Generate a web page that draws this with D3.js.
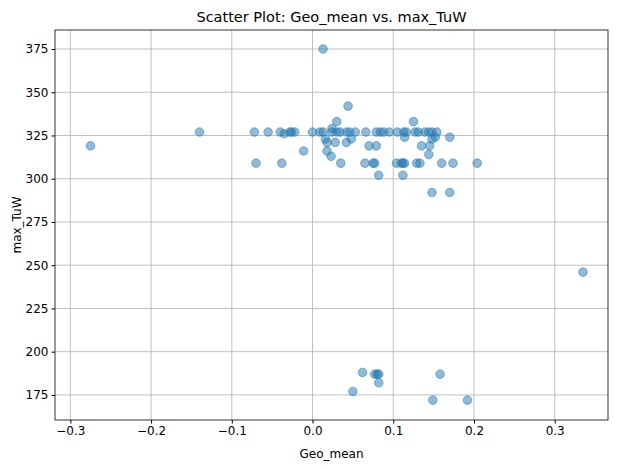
<!DOCTYPE html>
<html lang="en">
<head>
<meta charset="UTF-8">
<title>Scatter Plot</title>
<script src="https://cdnjs.cloudflare.com/ajax/libs/d3/7.8.5/d3.min.js"></script>
<style>
    body { margin: 0; background: #fff; }
    svg { font-family: "DejaVu Sans", sans-serif; }
</style>
</head>
<body>
<svg id="chart" width="618" height="470"></svg>
<script>
    // Geo_mean values
    var geoMean = [
        -0.275, -0.14, -0.072, -0.070, -0.055, -0.040, -0.038, -0.035, -0.028, -0.026, -0.022,
        -0.011, 0.000, 0.009, 0.013, 0.013, 0.016, 0.018, 0.018, 0.023, 0.024, 0.024, 0.028, 0.030, 0.030,
        0.034, 0.035, 0.042, 0.042, 0.044, 0.046, 0.048, 0.053, 0.065, 0.066, 0.070, 0.075, 0.077, 0.079,
        0.079, 0.082, 0.084, 0.088, 0.095, 0.104, 0.105, 0.110, 0.112, 0.112, 0.113, 0.114, 0.114, 0.116,
        0.125, 0.127, 0.129, 0.131, 0.133, 0.135, 0.139, 0.144, 0.144, 0.145, 0.148, 0.148, 0.148, 0.152,
        0.154, 0.160, 0.170, 0.170, 0.174, 0.204, 0.335,
        0.050, 0.062, 0.077, 0.080, 0.082, 0.082, 0.149, 0.158, 0.192
    ];
    // max_TuW values
    var maxTuW = [
        319, 327, 327, 309, 327, 327, 309, 326, 327, 327, 327,
        316, 327, 327, 327, 375, 323, 321, 316, 313, 327, 329, 321, 327, 333,
        327, 309, 327, 321, 342, 327, 323, 327, 309, 327, 319, 309, 309, 319,
        327, 302, 327, 327, 327, 309, 327, 309, 309, 302, 327, 309, 324, 327,
        333, 327, 309, 327, 309, 319, 327, 327, 314, 319, 327, 323, 292, 324,
        327, 309, 324, 292, 309, 309, 246,
        177, 188, 187, 187, 187, 182, 172, 187, 172
    ];
    var xTicks = [-0.3, -0.2, -0.1, 0.0, 0.1, 0.2, 0.3];
    var yTicks = [175, 200, 225, 250, 275, 300, 325, 350, 375];

    var svg = d3.select('#chart');
    var mLeft = 55, mRight = 608, mTop = 30, mBottom = 420;

    var x = d3.scaleLinear().domain([-0.319, 0.366]).range([mLeft, mRight]);
    var y = d3.scaleLinear().domain([160.5, 386]).range([mBottom, mTop]);

    // grid
    svg.append('g').selectAll('line').data(xTicks).join('line')
        .attr('x1', d => x(d)).attr('x2', d => x(d)).attr('y1', mTop).attr('y2', mBottom)
        .attr('stroke', '#b0b0b0').attr('stroke-width', 0.8);
    svg.append('g').selectAll('line').data(yTicks).join('line')
        .attr('y1', d => y(d)).attr('y2', d => y(d)).attr('x1', mLeft).attr('x2', mRight)
        .attr('stroke', '#b0b0b0').attr('stroke-width', 0.8);

    // points
    svg.append('g').selectAll('circle').data(geoMean).join('circle')
        .attr('cx', d => x(d))
        .attr('cy', (d, i) => y(maxTuW[i]))
        .attr('r', 4.3)
        .attr('fill', '#1f77b4').attr('fill-opacity', 0.5)
        .attr('stroke', '#1f77b4').attr('stroke-opacity', 0.5).attr('stroke-width', 1);

    // axes
    var xAxis = svg.append('g').attr('transform', `translate(0,${mBottom})`)
        .call(d3.axisBottom(x).tickValues(xTicks).tickFormat(d3.format('.1f')).tickSize(3.5).tickPadding(3));
    var yAxis = svg.append('g').attr('transform', `translate(${mLeft},0)`)
        .call(d3.axisLeft(y).tickValues(yTicks).tickSize(3.5).tickPadding(3));
    [xAxis, yAxis].forEach(function(a) {
        a.select('.domain').remove();
        a.selectAll('text').attr('font-size', 12).attr('fill', '#000').attr('font-family', 'DejaVu Sans');
        a.selectAll('line').attr('stroke', '#000');
    });

    svg.append('rect').attr('x', mLeft).attr('y', mTop)
        .attr('width', mRight - mLeft).attr('height', mBottom - mTop)
        .attr('fill', 'none').attr('stroke', '#000').attr('stroke-width', 0.8);

    svg.append('text').attr('x', (mLeft + mRight) / 2).attr('y', 22)
        .attr('text-anchor', 'middle').attr('font-size', 14.5)
        .text('Scatter Plot: Geo_mean vs. max_TuW');
    svg.append('text').attr('x', (mLeft + mRight) / 2).attr('y', 458)
        .attr('text-anchor', 'middle').attr('font-size', 12)
        .text('Geo_mean');
    svg.append('text').attr('transform', `translate(21,${(mTop + mBottom) / 2}) rotate(-90)`)
        .attr('text-anchor', 'middle').attr('font-size', 12)
        .text('max_TuW');
</script>
</body>
</html>
